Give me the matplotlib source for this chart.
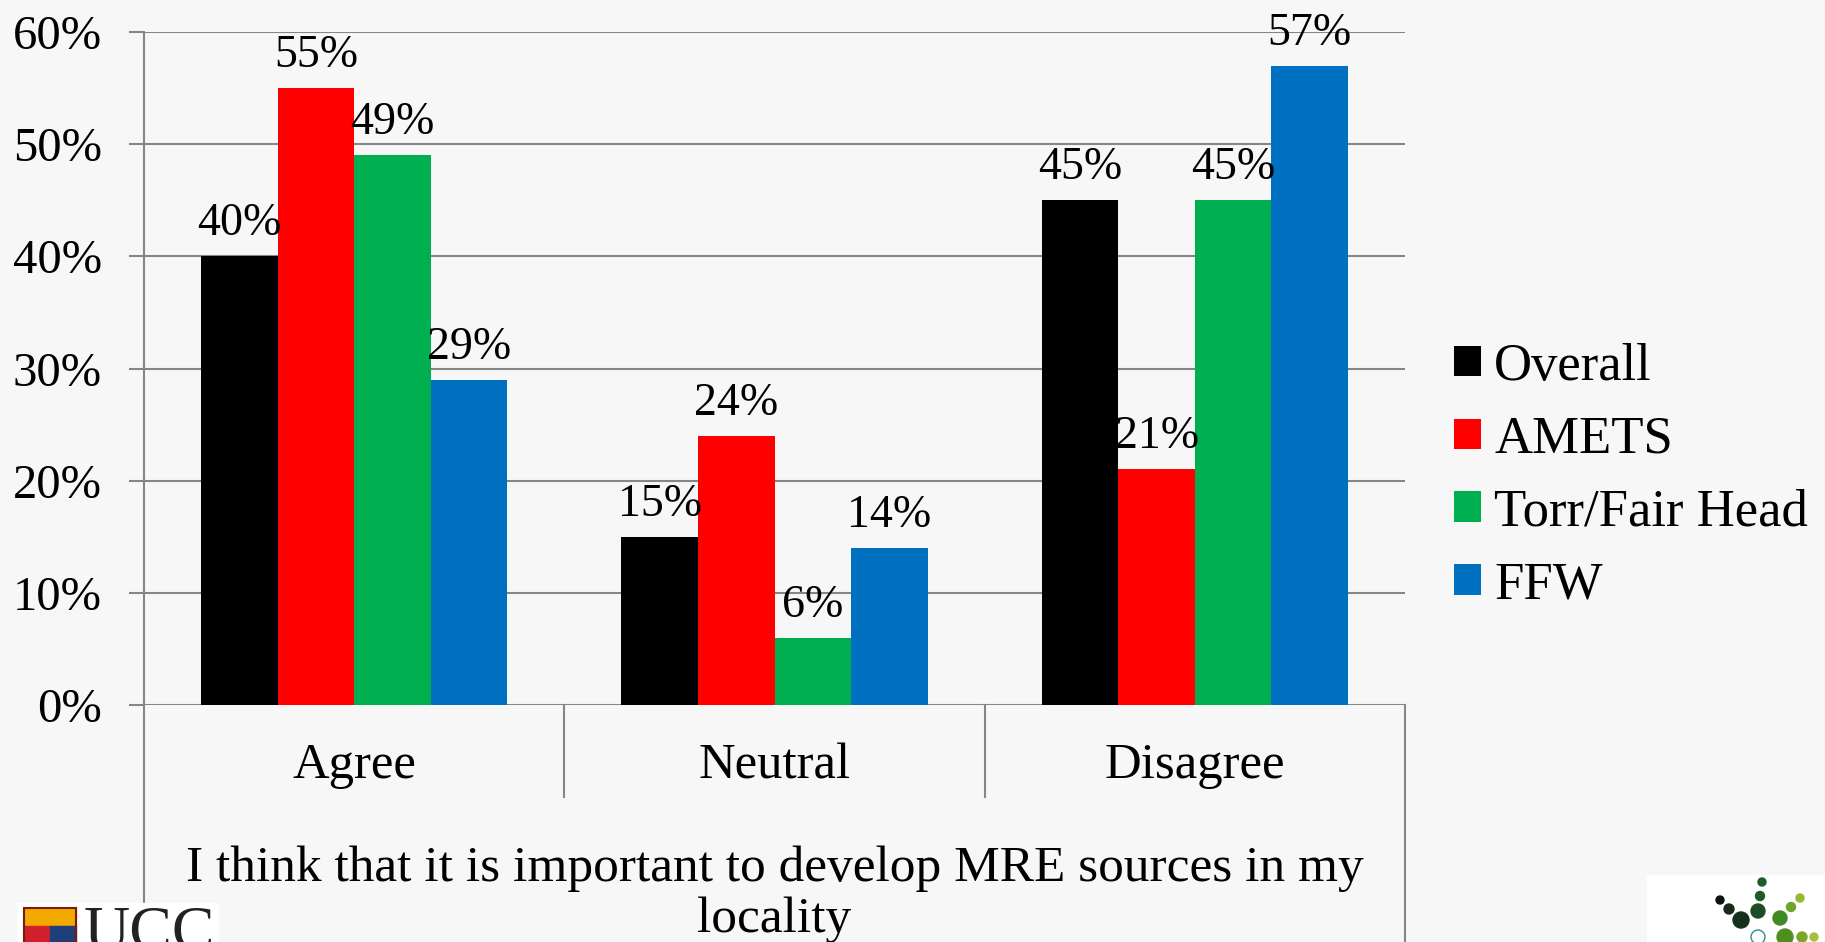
import matplotlib
matplotlib.use("Agg")
import matplotlib.pyplot as plt
import numpy as np
from matplotlib.patches import Circle, Rectangle
from matplotlib.ticker import FuncFormatter

categories = ["Agree", "Neutral", "Disagree"]
series_names = ["Overall", "AMETS", "Torr/Fair Head", "FFW"]
overall = [40, 15, 45]
amets = [55, 24, 21]
torr_fair_head = [49, 6, 45]
ffw = [29, 14, 57]
series_values = [overall, amets, torr_fair_head, ffw]
colors = ["#000000", "#FF0000", "#00B050", "#0070C0"]
y_ticks = [0, 10, 20, 30, 40, 50, 60]
x_title_lines = ["I think that it is important to develop MRE sources in my", "locality"]

W, H = 1825, 942
BG = "#f7f7f7"
GRID = "#868686"
plt.rcParams['font.family'] = ['Liberation Serif', 'DejaVu Serif']

fig = plt.figure(figsize=(W / 100, H / 100), dpi=100, facecolor=BG)
left, right, top, bottom = 144, 1405, 32, 705
ax = fig.add_axes([left / W, 1 - bottom / H, (right - left) / W, (bottom - top) / H])
ax.set_facecolor(BG)

n = len(series_names)
bw = 0.182
x = np.arange(len(categories))
for i, (name, vals, c) in enumerate(zip(series_names, series_values, colors)):
    bars = ax.bar(x + (i - (n - 1) / 2) * bw, vals, bw, color=c, label=name, zorder=3)
    ax.bar_label(bars, labels=[f"{v}%" for v in vals], padding=8, fontsize=33, zorder=4)

ax.set_xlim(-0.5, len(categories) - 0.5)
ax.set_ylim(0, 60)
ax.set_yticks(y_ticks)
ax.yaxis.set_major_formatter(FuncFormatter(lambda v, p: f"{v:.0f}%"))
ax.grid(axis='y', color=GRID, linewidth=1.5, zorder=0)
ax.tick_params(axis='y', length=11, width=1.5, color=GRID, pad=19.5, labelsize=35)
for s in ['top', 'right', 'bottom']:
    ax.spines[s].set_visible(False)
ax.spines['left'].set_color(GRID)
ax.spines['left'].set_linewidth(1.5)

ax.set_xticks(x)
ax.set_xticklabels(categories, fontsize=36.5)
ax.tick_params(axis='x', length=0, pad=44)
for lbl in ax.get_xticklabels():
    lbl.set_va('center')

# category axis divider lines below the plot
axh = bottom - top
tr = ax.get_xaxis_transform()
for xd in np.arange(0.5, len(categories) - 1, 1.0):
    ax.plot([xd, xd], [0, -(797 - bottom) / axh], transform=tr, color=GRID, lw=1.5, clip_on=False)
for xd in [-0.5, len(categories) - 0.5]:
    ax.plot([xd, xd], [0, -(H - bottom) / axh], transform=tr, color=GRID, lw=1.5, clip_on=False)

# axis title (two lines, as in the reference)
for k, line in enumerate(x_title_lines):
    fig.text((left + right) / 2 / W, 1 - (869 + 51 * k) / H, line, ha='center', va='center',
             fontsize=37)

leg = fig.legend(loc='center left', bbox_to_anchor=(1454 / W, 1 - 476 / H), frameon=False,
                 fontsize=38, handlelength=0.51, handleheight=0.51, handletextpad=0.25,
                 labelspacing=0.47, borderpad=0, borderaxespad=0)

# decorative logos
deco = fig.add_axes([0, 0, 1, 1], zorder=10)
deco.set_xlim(0, W)
deco.set_ylim(H, 0)
deco.axis('off')
deco.patch.set_alpha(0)
deco.add_patch(Rectangle((17, 903), 201, 40, color='white'))
deco.add_patch(Rectangle((24, 908), 52, 18, color='#F2A900'))
deco.add_patch(Rectangle((24, 926), 26, 17, color='#D0202E'))
deco.add_patch(Rectangle((50, 926), 26, 17, color='#1F3F7A'))
deco.add_patch(Rectangle((24, 908), 52, 35, facecolor='none', edgecolor='#7a1a10', lw=1.5))
deco.text(84, 949, "UCC", fontsize=46, color='#222222', va='baseline', ha='left')
deco.add_patch(Rectangle((1647, 875), 178, 68, color='white'))
dots = [(1720, 900, 4, '#111111'), (1729, 909, 5, '#1a2a1a'), (1741, 920, 8, '#12301a'),
        (1762, 882, 4, '#1f5a2a'), (1760, 896, 4.5, '#1f5a2a'), (1758, 911, 7, '#1c4d24'),
        (1780, 918, 7, '#3f8a22'), (1791, 907, 4.5, '#6fa52a'), (1800, 898, 4, '#94b832'),
        (1785, 937, 8, '#4f8f20'), (1802, 937, 5, '#7ba62a'), (1814, 937, 4, '#a4c23a')]
for cx, cy, r, c in dots:
    deco.add_patch(Circle((cx, cy), r, color=c))
deco.add_patch(Circle((1758, 937), 7, facecolor='none', edgecolor='#2f8f8f', lw=1))

fig.savefig("out.png", dpi=100, facecolor=BG)
